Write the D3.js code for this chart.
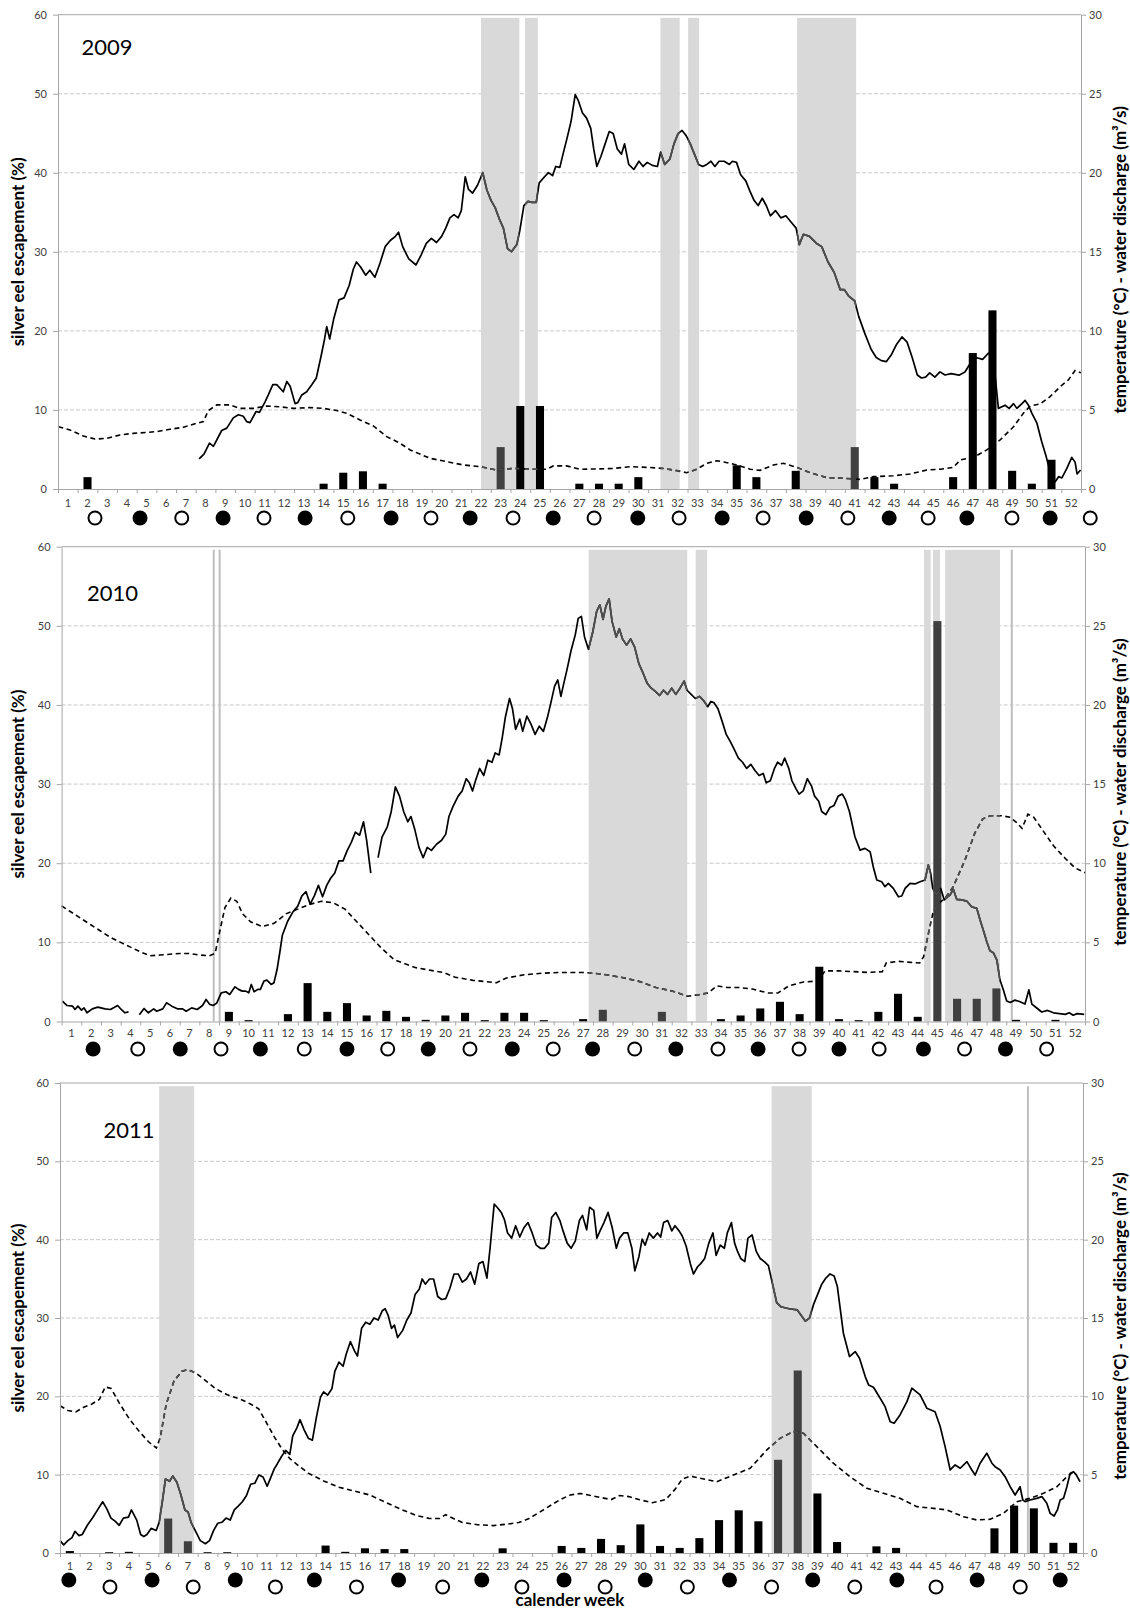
<!DOCTYPE html>
<html lang="en">
<head>
<meta charset="UTF-8" />
<title>Silver eel escapement 2009-2011</title>
<script src="https://cdn.jsdelivr.net/npm/d3@7"></script>
<style>
  html, body { margin: 0; background: #fff; }
  body { font-family: Lato, "DejaVu Sans", sans-serif; }
  .axis text { font-family: Lato, sans-serif; font-size: 11px; fill: #404040; }
  .axis path, .axis line { stroke: #a6a6a6; }
  .axis-title { font-size: 17px; font-weight: bold; fill: #000; }
  .year { font-size: 22px; fill: #000; }
</style>
</head>
<body>
<svg id="chart" width="1130" height="1611"></svg>
<script>
// calendar weeks and axis ticks
const weeks = d3.range(1, 53);
const leftTicks = [0, 10, 20, 30, 40, 50, 60];
const rightTicks = [0, 5, 10, 15, 20, 25, 30];

// weekly silver eel escapement (%), week 1..52
const esc2009 = [0,1.5,0,0,0,0,0,0,0,0, 0,0,0,0.67,2.06,2.24,0.67,0,0,0, 0,0,5.3,10.5,10.5,0,0.67,0.67,0.67,1.5,
  0,0,0,0,3.0,1.5,0,2.3,0,0, 5.3,1.5,0.67,0,0,1.5,17.2,22.6,2.3,0.67, 3.7,0];
const esc2010 = [0,0,0,0,0,0,0,0,1.22,0.17, 0,0.93,4.85,1.22,2.32,0.76,1.35,0.59,0.21,0.76, 1.1,0.17,1.1,1.1,0.17,0,0.3,1.48,0,0,
  1.22,0,0,0.3,0.76,1.65,2.49,0.93,6.92,0.3, 0.17,1.22,3.5,0.59,50.6,2.87,2.87,4.18,0.21,0, 0.21,0];
const esc2011 = [0.25,0,0.1,0.15,0,4.4,1.5,0.1,0.1,0, 0,0,0,0.95,0.15,0.6,0.5,0.5,0,0, 0,0,0.6,0,0,0.9,0.65,1.8,1.0,3.65,
  0.9,0.65,1.9,4.2,5.45,4.05,11.9,23.3,7.6,1.4, 0,0.85,0.65,0,0,0,0,3.15,6.05,5.7, 1.3,1.3];

// daily water temperature (°C) as [week position, value]; null = gap
const temp2009 = [[7.17,1.9],[7.42,2.2],[7.7,2.9],[7.9,2.7],[8.32,3.7],[8.58,3.85],[8.91,4.5],[9.17,4.7],[9.42,4.6],[9.59,4.26],[9.76,4.2],[10.07,4.9],[10.24,4.85],[10.52,5.5],[10.69,5.95],[10.92,6.6],[11.12,6.6],[11.45,6.15],[11.63,6.8],[11.8,6.5],[12.05,5.4],[12.19,5.46],[12.39,5.95],[12.64,6.15],[12.9,6.6],[13.13,7.02],[13.39,8.51],[13.55,9.49],[13.66,10.27],[13.81,9.49],[14.02,10.79],[14.28,11.96],[14.54,12.09],[14.8,12.87],[15.01,13.9],[15.17,14.36],[15.38,14.04],[15.64,13.52],[15.85,13.84],[16.11,13.39],[16.37,14.3],[16.63,15.33],[16.89,15.72],[17.15,15.98],[17.31,16.24],[17.52,15.33],[17.83,14.55],[18.2,14.17],[18.46,14.81],[18.72,15.53],[18.98,15.85],[19.24,15.59],[19.5,15.98],[19.71,16.5],[19.92,17.15],[20.13,17.35],[20.34,17.15],[20.5,17.61],[20.7,19.75],[20.86,18.97],[21.07,18.71],[21.33,19.23],[21.59,20.01],[21.8,18.91],[22.01,18.26],[22.22,17.8],[22.43,17.09],[22.64,16.5],[22.85,15.2],[23.05,15.01],[23.32,15.46],[23.47,16.31],[23.68,17.93],[23.89,18.19],[24.1,18.13],[24.31,18.13],[24.46,19.36],[24.73,19.75],[24.93,20.01],[25.14,19.82],[25.3,20.4],[25.51,20.34],[25.67,21.18],[25.87,22.16],[26.08,23.26],[26.29,24.95],[26.45,24.56],[26.66,23.78],[26.87,23.46],[27.08,22.81],[27.23,21.51],[27.39,20.4],[27.6,21.05],[27.81,21.83],[28.02,22.61],[28.22,22.48],[28.43,21.51],[28.64,21.18],[28.8,21.83],[29.01,20.53],[29.27,20.21],[29.53,20.73],[29.74,20.4],[29.95,20.66],[30.21,20.47],[30.47,20.4],[30.63,21.31],[30.84,20.53],[31.1,20.86],[31.31,21.83],[31.52,22.48],[31.72,22.68],[31.93,22.35],[32.14,21.83],[32.35,21.18],[32.56,20.53],[32.77,20.4],[32.98,20.53],[33.19,20.73],[33.39,20.4],[33.6,20.73],[33.86,20.73],[34.13,20.53],[34.28,20.73],[34.49,20.66],[34.7,19.88],[34.96,19.49],[35.17,18.84],[35.38,18.26],[35.59,17.93],[35.8,18.39],[36.0,17.93],[36.21,17.28],[36.47,17.61],[36.74,17.15],[37.0,17.28],[37.26,16.89],[37.52,16.5],[37.68,15.46],[37.89,16.11],[38.2,15.98],[38.56,15.53],[38.82,15.33],[39.14,14.36],[39.45,13.71],[39.76,12.61],[39.97,12.61],[40.18,12.22],[40.5,11.89],[40.7,10.92],[41.02,9.81],[41.33,8.84],[41.59,8.32],[41.85,8.12],[42.11,8.06],[42.37,8.51],[42.63,9.16],[42.9,9.62],[43.16,9.29],[43.42,8.32],[43.68,7.21],[43.89,7.02],[44.1,7.08],[44.31,7.34],[44.57,7.08],[44.83,7.41],[45.09,7.21],[45.4,7.3],[45.8,7.2],[46.1,7.4],[46.4,8.0],[46.7,8.3],[47.0,8.2],[47.3,8.6],[47.5,8.3],[47.65,7.0],[47.8,5.1],[48.14,5.3],[48.35,5.1],[48.57,5.4],[48.74,5.1],[49.0,5.4],[49.16,5.6],[49.33,5.3],[49.5,4.8],[49.76,4.16],[50.0,3.0],[50.23,2.05],[50.45,1.0],[50.69,0.46],[50.86,0.78],[51.03,0.7],[51.28,1.3],[51.53,2.0],[51.7,1.7],[51.8,0.95],[51.98,1.2]];

const temp2010 = [[0.04,1.29],[0.28,1.01],[0.56,0.97],[0.68,0.76],[0.83,0.97],[1.01,0.72],[1.14,0.86],[1.29,0.55],[1.56,0.8],[1.84,0.91],[2.21,0.8],[2.48,0.76],[2.85,1.01],[3.03,0.76],[3.22,0.55],[3.4,0.61],null,
  [3.95,0.42],[4.19,0.82],[4.41,0.55],[4.68,0.8],[4.83,0.65],[5.14,0.8],[5.33,1.18],[5.6,0.97],[5.88,0.8],[6.15,0.8],[6.33,0.65],[6.61,0.86],[6.89,0.76],[7.16,1.01],[7.34,1.39],[7.53,1.08],[7.71,1.01],[7.89,1.18],[8.11,1.81],[8.35,1.88],[8.54,1.71],[8.81,2.19],[8.99,2.03],[9.18,1.92],[9.36,1.92],[9.51,1.81],[9.64,2.34],[9.78,1.88],[9.97,2.03],[10.1,2.03],[10.28,2.55],[10.43,2.62],[10.65,2.34],[10.79,2.45],[10.95,3.3],[11.1,4.47],[11.22,5.47],[11.48,6.32],[11.74,6.9],[12.0,7.29],[12.21,7.94],[12.42,8.2],[12.63,7.42],[12.84,7.94],[13.05,8.6],[13.26,7.88],[13.47,8.6],[13.67,9.05],[13.88,9.38],[14.09,10.15],[14.3,10.15],[14.51,10.8],[14.72,11.32],[14.93,11.97],[15.14,11.77],[15.34,12.62],[15.5,11.45],[15.71,9.38],null,
  [16.08,10.35],[16.28,11.65],[16.55,12.3],[16.75,13.27],[16.96,14.83],[17.17,14.24],[17.38,13.27],[17.59,12.62],[17.75,12.95],[17.95,12.11],[18.16,11.0],[18.37,10.35],[18.58,11.0],[18.79,10.81],[19.05,11.2],[19.31,11.45],[19.52,11.84],[19.68,12.95],[19.89,13.59],[20.15,14.24],[20.35,14.56],[20.56,15.34],[20.72,15.08],[20.88,14.56],[21.03,15.21],[21.24,15.99],[21.45,15.54],[21.66,16.51],[21.87,16.38],[22.03,16.97],[22.23,16.84],[22.39,17.94],[22.55,19.24],[22.76,20.41],[22.91,19.76],[23.07,18.46],[23.28,19.11],[23.43,18.33],[23.64,19.3],[23.85,18.79],[24.06,18.14],[24.27,18.66],[24.48,18.33],[24.69,19.24],[24.84,20.02],[25.05,21.19],[25.21,21.58],[25.37,20.54],[25.52,21.38],[25.68,22.23],[25.89,23.46],[26.1,24.43],[26.25,25.47],[26.41,25.6],[26.57,24.3],[26.77,23.52],[26.98,24.56],[27.19,25.93],[27.35,26.32],[27.51,25.41],[27.66,26.25],[27.82,26.7],[27.97,25.28],[28.18,24.3],[28.34,24.82],[28.5,24.17],[28.71,23.78],[28.91,24.17],[29.12,23.65],[29.33,22.61],[29.54,22.03],[29.75,21.38],[29.96,21.06],[30.17,20.86],[30.38,20.6],[30.58,20.93],[30.79,20.67],[31.0,21.06],[31.21,20.67],[31.42,21.06],[31.63,21.51],[31.78,20.93],[31.99,20.67],[32.2,20.41],[32.41,20.54],[32.62,20.28],[32.83,19.89],[32.99,20.22],[33.14,20.15],[33.35,19.76],[33.56,18.98],[33.77,18.14],[33.98,17.68],[34.19,17.16],[34.39,16.64],[34.6,16.38],[34.81,15.99],[35.02,16.25],[35.23,15.86],[35.44,15.54],[35.65,15.67],[35.8,15.08],[36.01,15.21],[36.22,15.99],[36.38,16.38],[36.59,16.19],[36.74,16.64],[36.95,15.99],[37.11,15.21],[37.32,14.7],[37.47,14.37],[37.68,14.57],[37.89,15.34],[38.1,14.89],[38.26,14.24],[38.47,13.92],[38.62,13.27],[38.83,13.07],[39.04,13.52],[39.25,13.65],[39.46,14.24],[39.67,14.37],[39.82,14.04],[40.03,13.27],[40.31,11.67],[40.57,10.83],[40.82,10.94],[41.08,10.73],[41.24,9.78],[41.42,8.94],[41.67,8.83],[41.84,8.52],[42.01,8.73],[42.26,8.41],[42.52,7.88],[42.69,7.93],[42.86,8.41],[43.11,8.73],[43.36,8.69],[43.62,8.83],[43.87,8.94],[44.04,9.89],[44.16,9.36],[44.26,8.41],[44.45,8.0],[44.67,8.41],[44.85,7.68],[45.02,7.88],[45.14,7.99],[45.31,8.35],[45.48,7.72],[45.74,7.68],[45.99,7.61],[46.24,7.25],[46.5,7.15],[46.67,6.41],[46.83,5.78],[47.01,5.04],[47.17,4.47],[47.34,4.35],[47.52,3.89],[47.68,2.62],[47.85,2.0],[48.02,1.3],[48.2,1.2],[48.44,1.35],[48.7,1.25],[48.95,1.1],[49.15,2.0],[49.3,1.1],[49.5,0.9],[49.8,0.6],[50.1,0.7],[50.4,0.55],[50.7,0.5],[51.0,0.45],[51.2,0.55],[51.4,0.4],[51.6,0.5],[51.96,0.45]];

const temp2011 = [[0,0.79],[0.19,0.52],[0.4,0.79],[0.61,0.98],[0.76,1.38],[0.97,1.11],[1.13,1.18],[1.39,1.77],[1.65,2.23],[1.91,2.75],[2.17,3.27],[2.38,2.82],[2.59,2.23],[2.8,2.03],[3.01,1.77],[3.22,2.23],[3.48,2.29],[3.63,2.75],[3.9,2.1],[4.1,1.18],[4.26,1.05],[4.42,1.18],[4.63,1.57],[4.89,1.44],[5.04,1.96],[5.2,3.27],[5.36,4.72],[5.57,4.58],[5.73,4.91],[5.94,4.52],[6.14,3.73],[6.35,2.75],[6.51,2.62],[6.66,1.96],[6.87,1.44],[7.13,0.79],[7.39,0.59],[7.6,0.79],[7.81,1.44],[8.02,1.9],[8.23,1.96],[8.44,2.23],[8.65,2.1],[8.86,2.75],[9.07,3.01],[9.27,3.27],[9.48,3.67],[9.69,4.39],[9.9,4.45],[10.11,4.98],[10.32,4.85],[10.53,4.26],[10.68,4.72],[10.89,5.37],[11.05,5.7],[11.26,6.16],[11.47,6.55],[11.68,6.29],[11.83,7.47],[12.04,7.99],[12.2,8.51],[12.41,7.86],[12.62,7.33],[12.83,7.2],[13.03,8.64],[13.24,9.95],[13.4,10.28],[13.61,10.08],[13.82,10.48],[13.97,11.59],[14.18,12.18],[14.39,11.92],[14.55,12.7],[14.76,13.49],[14.97,12.9],[15.12,12.57],[15.33,14.34],[15.54,14.73],[15.75,14.6],[15.96,15.0],[16.17,14.87],[16.38,15.46],[16.53,15.59],[16.69,15.13],[16.85,14.34],[17.0,14.54],[17.16,13.75],[17.42,14.21],[17.63,14.87],[17.84,15.32],[18.05,16.5],[18.26,16.83],[18.41,17.49],[18.57,17.16],[18.78,17.49],[18.99,17.49],[19.2,16.37],[19.4,16.18],[19.61,16.24],[19.82,16.9],[20.03,17.81],[20.24,17.81],[20.45,17.29],[20.66,17.49],[20.87,17.94],[21.08,17.16],[21.29,18.47],[21.5,18.6],[21.7,17.55],[21.86,19.45],[22.07,22.27],[22.22,22.07],[22.43,21.74],[22.59,21.28],[22.75,20.43],[22.96,20.1],[23.16,20.89],[23.37,20.17],[23.58,20.76],[23.79,21.09],[24.0,20.43],[24.21,19.65],[24.42,19.45],[24.63,19.45],[24.84,19.78],[24.99,21.41],[25.2,21.74],[25.41,21.22],[25.57,20.56],[25.78,19.78],[25.98,19.45],[26.19,19.91],[26.4,21.22],[26.56,21.55],[26.77,20.63],[26.92,22.07],[27.13,21.87],[27.29,20.1],[27.45,20.56],[27.65,21.09],[27.86,21.74],[28.07,20.76],[28.28,19.45],[28.44,20.1],[28.65,20.43],[28.86,20.43],[29.07,19.45],[29.22,18.01],[29.43,18.93],[29.59,20.04],[29.74,19.65],[29.95,20.43],[30.16,20.1],[30.37,20.43],[30.53,20.17],[30.68,21.09],[30.89,21.22],[31.1,20.56],[31.26,20.89],[31.47,20.56],[31.63,20.23],[31.83,19.58],[32.04,18.47],[32.2,17.81],[32.41,18.27],[32.57,18.47],[32.77,18.8],[32.98,19.78],[33.19,20.43],[33.35,18.99],[33.56,19.65],[33.77,19.45],[33.92,20.43],[34.13,21.09],[34.29,19.78],[34.44,19.25],[34.6,18.8],[34.81,18.6],[34.97,20.1],[35.18,20.3],[35.39,19.25],[35.59,18.8],[35.8,18.6],[36.01,18.34],[36.22,17.16],[36.43,15.98],[36.64,15.72],[37.06,15.59],[37.47,15.52],[37.89,14.8],[38.1,15.0],[38.3,15.85],[38.72,17.16],[38.93,17.55],[39.14,17.81],[39.35,17.68],[39.51,17.03],[39.82,14.03],[40.13,12.54],[40.42,12.86],[40.64,12.43],[40.93,11.26],[41.1,10.73],[41.35,10.58],[41.69,9.88],[41.94,9.34],[42.2,8.38],[42.4,8.28],[42.7,8.81],[43.05,9.66],[43.3,10.52],[43.72,10.09],[44.06,9.24],[44.48,9.02],[44.74,8.07],[44.99,6.79],[45.25,5.3],[45.5,5.62],[45.76,5.41],[46.1,5.83],[46.35,5.3],[46.52,4.98],[46.77,5.73],[47.11,6.37],[47.37,5.73],[47.53,5.51],[47.79,5.3],[48.04,4.87],[48.3,4.23],[48.55,3.7],[48.8,4.23],[48.94,3.38],[49.06,3.28],[49.31,3.38],[49.65,3.49],[49.91,3.6],[50.16,3.17],[50.33,2.53],[50.53,2.36],[50.7,2.75],[50.84,3.38],[51.01,3.49],[51.18,4.23],[51.35,5.09],[51.52,5.19],[51.65,5.0],[51.85,4.55]];

// daily water discharge (m³/s) as [week position, value]
const flow2009 = [[0.02,3.94],[0.61,3.73],[1.29,3.35],[1.88,3.16],[2.47,3.2],[3.15,3.42],[3.83,3.52],[4.51,3.58],[5.02,3.63],[5.69,3.78],[6.37,3.9],[7.05,4.16],[7.39,4.26],[7.64,4.96],[8.07,5.32],[8.74,5.32],[9.25,5.1],[9.93,5.1],[10.61,5.25],[11.29,5.2],[11.96,5.1],[12.81,5.15],[13.49,5.1],[14.17,4.96],[14.68,4.79],[15.35,4.37],[16.03,3.99],[16.71,3.31],[17.39,2.89],[17.9,2.47],[18.91,1.94],[19.76,1.73],[20.6,1.52],[21.45,1.41],[22.3,1.2],[23.15,1.31],[24.08,1.25],[24.85,1.25],[25.18,1.46],[25.86,1.46],[26.54,1.25],[27.39,1.27],[28.23,1.3],[29.08,1.41],[29.93,1.37],[30.77,1.3],[31.45,1.16],[31.96,1.03],[32.47,1.25],[32.98,1.63],[33.49,1.79],[34.16,1.63],[34.67,1.46],[35.18,1.25],[35.69,1.18],[36.37,1.52],[36.87,1.63],[37.55,1.37],[38.23,1.03],[39.08,0.72],[39.92,0.68],[40.77,0.61],[41.45,0.78],[42.47,0.84],[43.31,0.95],[44.16,1.2],[44.84,1.25],[45.52,1.37],[45.86,1.84],[46.53,2.0],[47.21,2.47],[47.89,3.1],[48.57,3.94],[49.07,4.79],[49.42,5.25],[49.92,5.38],[50.43,5.84],[50.94,6.47],[51.36,6.9],[51.7,7.5],[52.0,7.35]];

const flow2010 = [[0,7.3],[0.5,6.9],[1.0,6.5],[1.5,6.1],[2.0,5.7],[2.5,5.3],[3.0,5.0],[3.5,4.7],[4.0,4.4],[4.5,4.15],[5.0,4.2],[5.5,4.25],[6.0,4.3],[6.5,4.3],[7.0,4.2],[7.5,4.15],[7.8,4.3],[8.0,5.5],[8.3,7.2],[8.6,7.8],[8.9,7.6],[9.2,6.8],[9.6,6.3],[10.2,6.0],[10.8,6.2],[11.4,6.8],[12.0,7.1],[12.6,7.4],[13.2,7.6],[13.8,7.5],[14.4,7.1],[15.0,6.3],[15.6,5.5],[16.2,4.7],[16.9,3.9],[18.0,3.4],[18.9,3.2],[19.4,3.1],[20.0,2.8],[20.9,2.6],[22.1,2.45],[22.6,2.75],[23.5,2.95],[24.4,3.05],[25.4,3.1],[26.5,3.1],[27.45,3.0],[28.4,2.8],[29.3,2.55],[30.2,2.15],[31.1,1.9],[31.8,1.6],[32.4,1.7],[32.85,1.8],[33.3,2.25],[33.8,2.15],[34.4,2.15],[35.1,2.05],[35.9,1.8],[36.4,1.8],[36.95,2.25],[37.7,2.5],[38.4,2.55],[38.8,3.2],[39.5,3.2],[40.25,3.15],[41.0,3.1],[41.7,3.15],[41.9,3.7],[42.5,3.8],[43.0,3.75],[43.6,3.7],[43.8,4.1],[44.05,5.6],[44.3,7.0],[44.6,7.5],[44.9,7.8],[45.3,8.5],[45.9,10.2],[46.4,11.9],[46.8,12.8],[47.2,13.0],[47.8,13.0],[48.2,12.9],[48.5,12.6],[48.8,12.2],[49.1,13.1],[49.4,12.9],[49.9,12.0],[50.4,11.1],[51.0,10.3],[51.5,9.7],[52.0,9.4]];

const flow2011 = [[0,9.4],[0.4,9.1],[0.8,9.0],[1.2,9.3],[1.6,9.5],[2.0,9.8],[2.3,10.6],[2.6,10.5],[3.0,9.6],[3.5,8.6],[4.0,7.8],[4.5,7.1],[4.9,6.7],[5.1,7.4],[5.4,9.5],[5.8,11.0],[6.2,11.6],[6.5,11.7],[6.9,11.5],[7.4,11.0],[7.9,10.5],[8.5,10.1],[9.2,9.8],[9.7,9.5],[10.1,9.2],[10.5,8.3],[10.9,7.4],[11.3,6.6],[11.7,6.0],[12.1,5.6],[12.62,5.1],[13.4,4.6],[14.18,4.2],[14.97,3.95],[15.75,3.7],[16.53,3.25],[17.31,2.8],[18.1,2.4],[18.78,2.2],[19.3,2.2],[19.6,2.45],[20.0,2.2],[20.45,1.95],[21.23,1.8],[22.02,1.75],[22.8,1.85],[23.32,1.95],[23.84,2.2],[24.37,2.6],[24.89,3.0],[25.41,3.4],[25.93,3.7],[26.45,3.8],[26.98,3.67],[27.5,3.54],[28.02,3.41],[28.44,3.67],[28.91,3.6],[29.43,3.41],[30.11,3.21],[30.79,3.41],[31.26,4.06],[31.63,4.72],[32.04,4.91],[32.54,4.77],[33.39,4.55],[34.23,4.98],[35.08,5.41],[35.93,6.58],[36.6,7.32],[37.28,7.75],[37.79,7.64],[38.47,6.79],[39.31,5.73],[40.16,4.87],[41.01,4.13],[41.86,3.81],[42.7,3.49],[43.55,2.96],[44.4,2.85],[45.08,2.75],[45.92,2.32],[46.6,2.11],[47.28,2.15],[47.96,2.53],[48.64,3.28],[49.31,3.49],[49.99,3.81],[50.67,4.23],[51.18,4.87],[51.52,5.19]];

// grey periods [from, to] in week positions, and single grey days
const shade2009 = [[21.5,23.45],[23.74,24.39],[30.62,31.6],[32.03,32.59],[37.57,40.57]];
const shade2010 = [[26.78,31.79],[32.22,32.8],[43.82,44.16],[44.28,44.63],[44.89,47.68]];
const shade2011 = [[5.04,6.82],[36.17,38.21]];
const rule2009 = [];
const rule2010 = [7.73, 8.03, 48.28];
const rule2011 = [49.2];

// moon phases (week positions): filled = new moon, open = full moon
const newMoon2009 = [4.17,8.39,12.56,16.93,20.95,25.17,29.47,33.76,38.03,42.25,46.2,50.43];
const fullMoon2009 = [1.88,6.29,10.47,14.73,18.96,23.13,27.25,31.57,35.84,40.15,44.23,48.49,52.47];
const newMoon2010 = [1.6,6.03,10.1,14.5,18.63,22.9,26.98,31.21,35.39,39.5,43.79,47.96];
const fullMoon2010 = [3.87,8.1,12.33,16.57,20.75,24.98,29.12,33.35,37.47,41.54,45.88,50.05];
const newMoon2011 = [0.45,4.68,8.91,12.93,17.21,21.44,25.62,29.75,34.03,38.26,42.54,46.62,50.84];
const fullMoon2011 = [2.54,6.77,10.95,15.07,19.45,23.48,27.71,31.89,36.17,40.4,44.53,48.81];

const panels = [
  { year: "2009", esc: esc2009, temp: temp2009, flow: flow2009, shade: shade2009, rules: rule2009,
    newMoon: newMoon2009, fullMoon: fullMoon2009,
    box: { left: 58, right: 1081, top: 14.7, bottom: 489 }, yearY: 55, labelDy: 17.5, moonNew: 29, moonFull: 29 },
  { year: "2010", esc: esc2010, temp: temp2010, flow: flow2010, shade: shade2010, rules: rule2010,
    newMoon: newMoon2010, fullMoon: fullMoon2010,
    box: { left: 61.6, right: 1085, top: 546.7, bottom: 1021.5 }, yearY: 601, labelDy: 15.5, moonNew: 27.5, moonFull: 27.5 },
  { year: "2011", esc: esc2011, temp: temp2011, flow: flow2011, shade: shade2011, rules: rule2011,
    newMoon: newMoon2011, fullMoon: fullMoon2011,
    box: { left: 60, right: 1083, top: 1083, bottom: 1553 }, yearY: 1138, labelDy: 17, moonNew: 27, moonFull: 34 }
];

const svg = d3.select("#chart");

panels.forEach((p, i) => {
  const b = p.box;
  const g = svg.append("g");

  const x = d3.scaleLinear().domain([0, 52]).range([b.left, b.right]);
  const xb = d3.scaleBand().domain(weeks).range([b.left, b.right])
    .paddingInner(0.59).paddingOuter(0.295);
  const yL = d3.scaleLinear().domain([0, 60]).range([b.bottom, b.top]);
  const yR = d3.scaleLinear().domain([0, 30]).range([b.bottom, b.top]);

  // gridlines
  g.append("g").selectAll("line")
    .data(leftTicks.filter(t => t > 0))
    .enter().append("line")
      .attr("x1", b.left).attr("x2", b.right)
      .attr("y1", d => yL(d)).attr("y2", d => yL(d))
      .attr("stroke", d => d === 60 ? "#a6a6a6" : "#c8c8c8")
      .attr("stroke-dasharray", d => d === 60 ? null : "4,2");

  // grey periods
  const inShade = w => p.shade.some(s => w >= s[0] && w <= s[1]);
  g.append("g").selectAll("rect")
    .data(p.shade)
    .enter().append("rect")
      .attr("x", d => x(d[0]))
      .attr("width", d => x(d[1]) - x(d[0]))
      .attr("y", yL(59.6))
      .attr("height", yL(0) - yL(59.6))
      .attr("fill", "#d9d9d9");

  g.append("g").selectAll("line")
    .data(p.rules)
    .enter().append("line")
      .attr("x1", d => x(d)).attr("x2", d => x(d))
      .attr("y1", yL(59.6)).attr("y2", yL(0))
      .attr("stroke", "#bfbfbf").attr("stroke-width", 2);

  // clip to grey periods, used to draw the parts inside them in dark grey
  const clipId = "shade-clip-" + i;
  g.append("clipPath").attr("id", clipId)
    .selectAll("rect").data(p.shade)
    .enter().append("rect")
      .attr("x", d => x(d[0])).attr("width", d => x(d[1]) - x(d[0]))
      .attr("y", b.top).attr("height", b.bottom - b.top);

  // weekly escapement bars
  g.append("g").selectAll("rect")
    .data(weeks.map((w, k) => ({ week: w, value: p.esc[k] })).filter(d => d.value > 0))
    .enter().append("rect")
      .attr("x", d => xb(d.week))
      .attr("width", xb.bandwidth())
      .attr("y", d => yL(d.value))
      .attr("height", d => yL(0) - yL(d.value))
      .attr("fill", d => inShade(d.week - 0.5) ? "#404040" : "#000");

  // temperature and discharge lines
  const line = d3.line()
    .defined(d => d !== null)
    .x(d => x(d[0]))
    .y(d => yR(d[1]));

  const drawLines = (parent, colour) => {
    parent.append("path").datum(p.flow)
      .attr("d", line).attr("fill", "none")
      .attr("stroke", colour).attr("stroke-width", 1.6)
      .attr("stroke-dasharray", "5,3.5");
    parent.append("path").datum(p.temp)
      .attr("d", line).attr("fill", "none")
      .attr("stroke", colour).attr("stroke-width", 1.7)
      .attr("stroke-linejoin", "round");
  };
  drawLines(g.append("g"), "#000");
  drawLines(g.append("g").attr("clip-path", `url(#${clipId})`), "#505050");

  // axes
  g.append("g").attr("class", "axis")
    .attr("transform", `translate(${b.left},0)`)
    .call(d3.axisLeft(yL).tickValues(leftTicks).tickSize(5).tickPadding(6).tickSizeOuter(0));

  g.append("g").attr("class", "axis")
    .attr("transform", `translate(${b.right},0)`)
    .call(d3.axisRight(yR).tickValues(rightTicks).tickSize(5).tickPadding(3).tickSizeOuter(0));

  g.append("g").attr("class", "axis")
    .attr("transform", `translate(0,${b.bottom})`)
    .call(d3.axisBottom(x).tickValues(d3.range(0, 53)).tickSize(4).tickSizeOuter(0).tickFormat(""));

  const wk = g.append("g").attr("class", "axis")
    .attr("transform", `translate(0,${b.bottom})`)
    .call(d3.axisBottom(xb).tickSize(0).tickPadding(p.labelDy - 7.8));
  wk.select(".domain").remove();

  // moon phases
  g.append("g").selectAll("circle")
    .data(p.newMoon)
    .enter().append("circle")
      .attr("cx", d => x(d)).attr("cy", b.bottom + p.moonNew)
      .attr("r", 7.5).attr("fill", "#000");
  g.append("g").selectAll("circle")
    .data(p.fullMoon)
    .enter().append("circle")
      .attr("cx", d => x(d)).attr("cy", b.bottom + p.moonFull)
      .attr("r", 6.5).attr("fill", "#fff")
      .attr("stroke", "#000").attr("stroke-width", 2);

  // year label
  g.append("text").attr("class", "year")
    .attr("x", b.left + 23.5 + (i === 2 ? 20 : (i === 1 ? 2 : 0)))
    .attr("y", p.yearY)
    .text(p.year);

  // axis titles
  const midY = (b.top + b.bottom) / 2;
  g.append("text").attr("class", "axis-title")
    .attr("transform", `translate(18.5,${midY}) rotate(-90)`)
    .attr("text-anchor", "middle").attr("dy", "0.35em")
    .text("silver eel escapement (%)");
  g.append("text").attr("class", "axis-title")
    .attr("transform", `translate(1120,${midY + 8}) rotate(-90)`)
    .attr("text-anchor", "middle").attr("dy", "0.35em")
    .text("temperature (°C)  - water discharge (m³/s)");
});

svg.append("text").attr("class", "axis-title")
  .attr("x", 570).attr("y", 1606)
  .attr("text-anchor", "middle")
  .text("calender week");
</script>
</body>
</html>
